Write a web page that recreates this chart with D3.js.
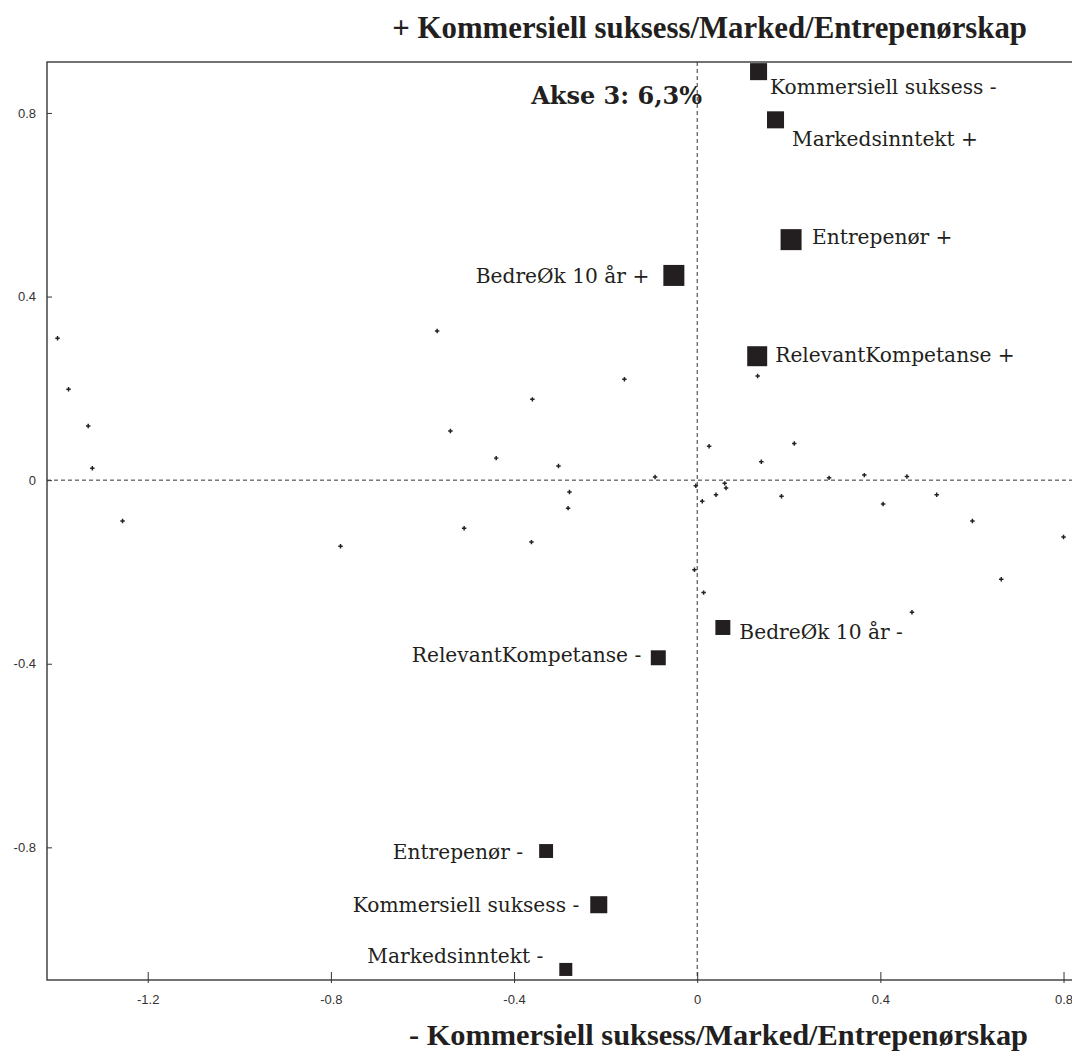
<!DOCTYPE html>
<html>
  <head>
    <meta charset="UTF-8" />
    <style>
      body { margin: 0; background: white; }
      svg { display: block; }
      .tick text { font-family: "Liberation Sans Narrow", "Liberation Sans", sans-serif; font-size: 13px; fill: #333; }
    </style>
  </head>
  <body>
    <svg></svg>
    <script src="https://d3js.org/d3.v7.min.js"></script>
    <script>
      let width = 1072,
        height = 1053;

      // modalities (active categories)
      const kategorier = [
        "Kommersiell suksess -",
        "Markedsinntekt +",
        "Entrepenør +",
        "BedreØk 10 år +",
        "RelevantKompetanse +",
        "BedreØk 10 år -",
        "RelevantKompetanse -",
        "Entrepenør -",
        "Kommersiell suksess -",
        "Markedsinntekt -",
      ];
      const kategoriX = [0.134, 0.171, 0.205, -0.051, 0.131, 0.056, -0.085, -0.33, -0.215, -0.287];
      const kategoriY = [0.89, 0.785, 0.524, 0.446, 0.27, -0.321, -0.387, -0.808, -0.925, -1.066];
      const bidrag = [4.8, 4.8, 7.3, 7.3, 6.6, 3.7, 3.7, 3.2, 4.8, 2.8];

      // individuals (small crosses)
      const punktX = [
        -1.397, -1.373, -1.33, -1.321, -1.255, -0.779, -0.568, -0.539, -0.439, -0.509,
        -0.36, -0.362, -0.303, -0.279, -0.282, -0.159, -0.092, -0.003, 0.026, 0.011,
        0.041, 0.06, 0.063, 0.132, 0.14, 0.184, 0.212, 0.288, 0.365, 0.406,
        0.458, 0.523, 0.601, 0.8, 0.664, -0.006, 0.014, 0.469,
      ];
      const punktY = [
        0.309, 0.198, 0.118, 0.026, -0.089, -0.144, 0.325, 0.107, 0.048, -0.105,
        0.176, -0.135, 0.031, -0.026, -0.061, 0.22, 0.007, -0.012, 0.074, -0.046,
        -0.032, -0.007, -0.017, 0.227, 0.04, -0.035, 0.08, 0.005, 0.011, -0.052,
        0.008, -0.032, -0.089, -0.124, -0.216, -0.195, -0.245, -0.288,
      ];

      const xTicks = [-1.2, -0.8, -0.4, 0, 0.4, 0.8];
      const yTicks = [-0.8, -0.4, 0, 0.4, 0.8];

      const tittelTopp = "+ Kommersiell suksess/Marked/Entrepenørskap";
      const tittelBunn = "- Kommersiell suksess/Marked/Entrepenørskap";
      const akseTekst = "Akse 3: 6,3%";

      // label placement next to each square
      const etikettPlass = [
        { dx: 11.5, dy: 15.5, anchor: "start" },
        { dx: 16.5, dy: 19.5, anchor: "start" },
        { dx: 21, dy: -2.5, anchor: "start" },
        { dx: -24.5, dy: 0, anchor: "end" },
        { dx: 18, dy: -1, anchor: "start" },
        { dx: 16.5, dy: 4.5, anchor: "start" },
        { dx: -17, dy: -2.5, anchor: "end" },
        { dx: -23, dy: 1, anchor: "end" },
        { dx: -19.5, dy: 0, anchor: "end" },
        { dx: -22.5, dy: -13.5, anchor: "end" },
      ];

      let svg = d3.select("svg").attr("width", width).attr("height", height);

      let x = d3.scaleLinear().domain([-1.42, 0.86]).range([47, 1091]);
      let y = d3.scaleLinear().domain([-1.089, 0.911]).range([980, 62]);
      let size = d3.scaleSqrt().domain([0, 7.3]).range([0, 21]);

      // frame (right side falls outside the picture)
      svg.append("rect")
        .attr("x", x.range()[0])
        .attr("y", y.range()[1])
        .attr("width", x.range()[1] - x.range()[0])
        .attr("height", y.range()[0] - y.range()[1])
        .attr("fill", "none")
        .attr("stroke", "#444")
        .attr("stroke-width", 1.5);

      // zero lines
      svg.append("line")
        .attr("x1", x(0)).attr("x2", x(0))
        .attr("y1", y.range()[1]).attr("y2", y.range()[0])
        .attr("stroke", "#333").attr("stroke-dasharray", "4,3");
      svg.append("line")
        .attr("x1", x.range()[0]).attr("x2", x.range()[1])
        .attr("y1", y(0)).attr("y2", y(0))
        .attr("stroke", "#333").attr("stroke-dasharray", "4,3");

      // axes
      let xAxis = svg.append("g")
        .attr("transform", `translate(0,${y.range()[0]})`)
        .call(d3.axisBottom(x).tickValues(xTicks).tickFormat((d) => String(d)).tickSize(3).tickPadding(12));
      xAxis.select(".domain").remove();
      xAxis.selectAll(".tick line").attr("y1", -8).attr("stroke", "#333");

      let yAxis = svg.append("g")
        .attr("transform", `translate(${x.range()[0]},0)`)
        .call(d3.axisLeft(y).tickValues(yTicks).tickFormat((d) => String(d)).tickSize(5).tickPadding(6));
      yAxis.select(".domain").remove();
      yAxis.selectAll(".tick line").attr("x2", 5).attr("stroke", "#333");

      // small crosses
      let punkter = punktX.map((v, i) => ({ x: v, y: punktY[i] }));
      svg.append("g")
        .selectAll("path")
        .data(punkter)
        .join("path")
        .attr("d", d3.symbol(d3.symbolCross, 11))
        .attr("transform", (d) => `translate(${x(d.x)},${y(d.y)})`)
        .attr("fill", "#222");

      // category squares
      let kat = kategorier.map((k, i) => ({
        navn: k,
        x: kategoriX[i],
        y: kategoriY[i],
        b: bidrag[i],
        plass: etikettPlass[i],
      }));

      svg.append("g")
        .selectAll("rect")
        .data(kat)
        .join("rect")
        .attr("x", (d) => x(d.x) - size(d.b) / 2)
        .attr("y", (d) => y(d.y) - size(d.b) / 2)
        .attr("width", (d) => size(d.b))
        .attr("height", (d) => size(d.b))
        .attr("fill", "#231f20");

      svg.append("g")
        .selectAll("text")
        .data(kat)
        .join("text")
        .attr("x", (d) => x(d.x) + d.plass.dx)
        .attr("y", (d) => y(d.y) + d.plass.dy)
        .attr("dy", "0.35em")
        .attr("text-anchor", (d) => d.plass.anchor)
        .style("font-family", "DejaVu Serif, serif")
        .style("font-size", "20.2px")
        .attr("fill", "#231f20")
        .text((d) => d.navn);

      // titles
      svg.append("text")
        .attr("x", 1027).attr("y", 38)
        .attr("text-anchor", "end")
        .style("font-family", "Liberation Serif, serif")
        .style("font-weight", "bold")
        .style("font-size", "30.8px")
        .attr("fill", "#231f20")
        .text(tittelTopp);

      svg.append("text")
        .attr("x", 1028).attr("y", 1045)
        .attr("text-anchor", "end")
        .style("font-family", "Liberation Serif, serif")
        .style("font-weight", "bold")
        .style("font-size", "30.4px")
        .attr("fill", "#231f20")
        .text(tittelBunn);

      svg.append("text")
        .attr("x", 702).attr("y", 104)
        .attr("text-anchor", "end")
        .style("font-family", "DejaVu Serif, serif")
        .style("font-weight", "bold")
        .style("font-size", "24px")
        .attr("fill", "#231f20")
        .text(akseTekst);
    </script>
  </body>
</html>
